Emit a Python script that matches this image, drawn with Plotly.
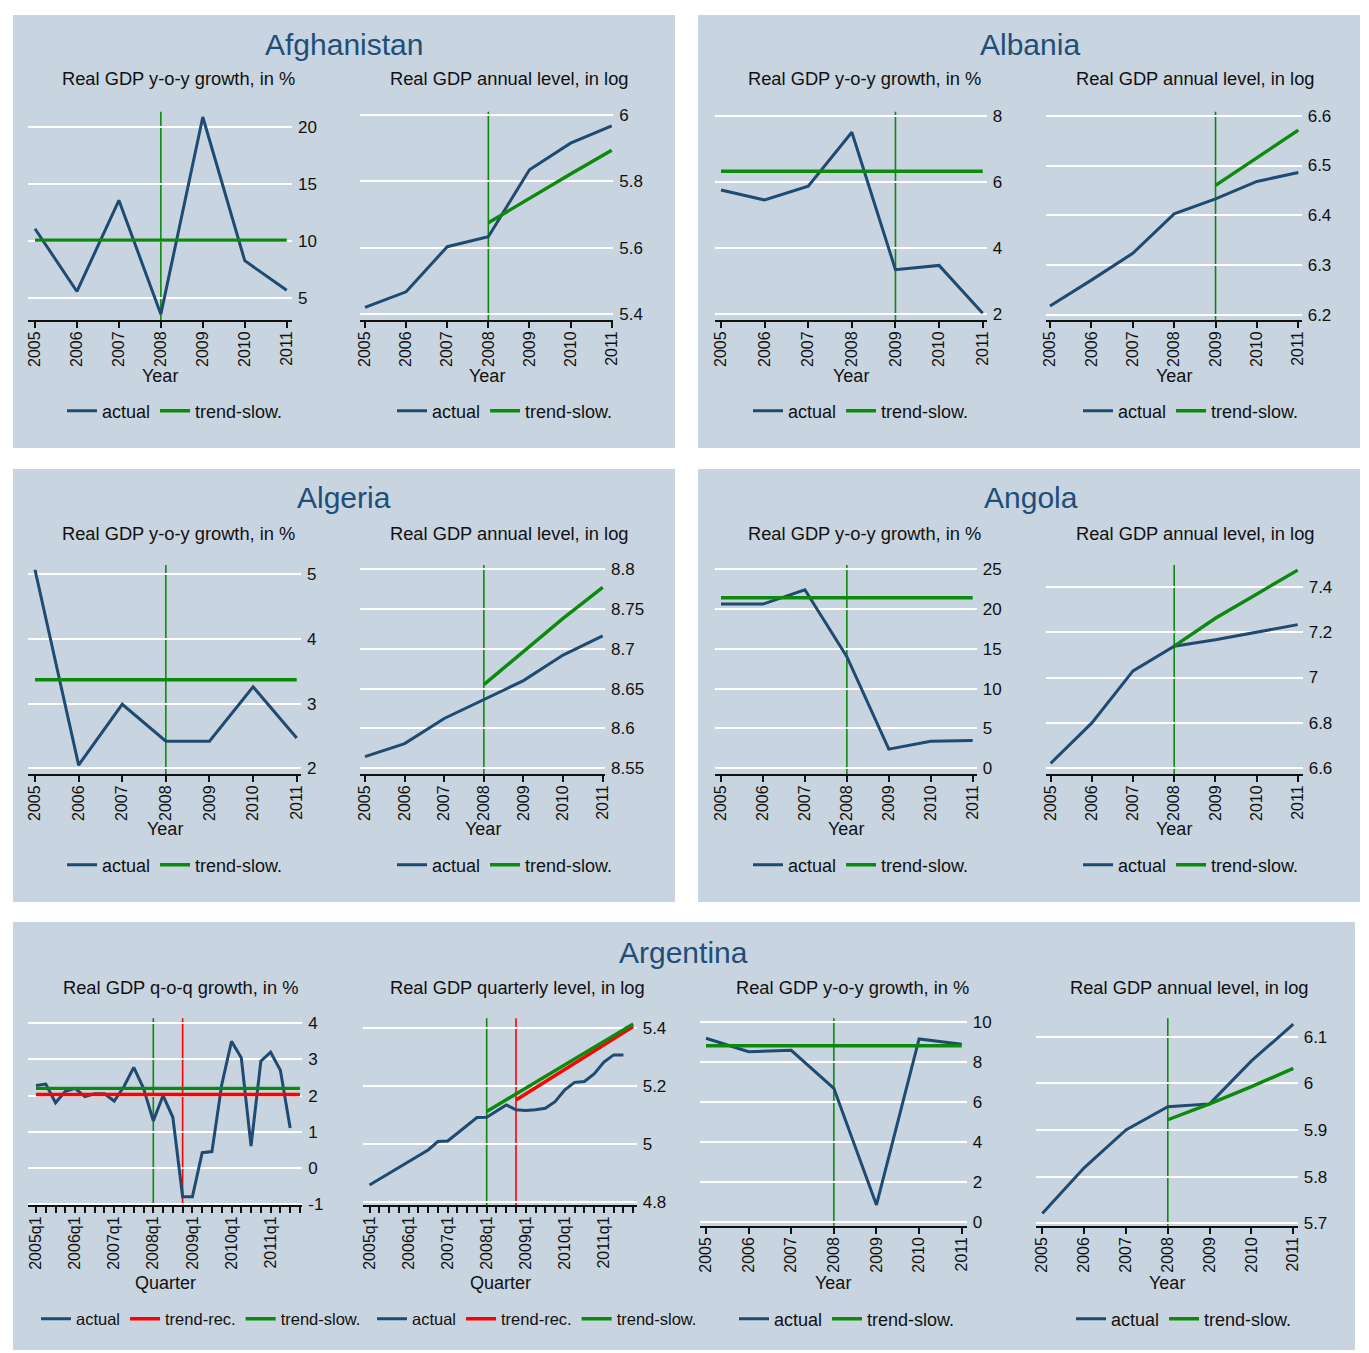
import plotly.graph_objects as go

W, H = 1369, 1353

FONT = "Liberation Sans, Arial, sans-serif"
NAVY = "#1f4a72"
GREEN = "#0c8a0c"
RED = "#ff0000"
PANEL = "#c8d4df"
TITLE_BLUE = "#1f4e79"
INK = "#111111"

# ---------------------------------------------------------------- data
years = [2005, 2006, 2007, 2008, 2009, 2010, 2011]
year_labels = ["2005", "2006", "2007", "2008", "2009", "2010", "2011"]

quarter_idx = list(range(28))                     # 2005q1 .. 2011q4
quarter_tick_idx = [0, 4, 8, 12, 16, 20, 24]
quarter_labels = ["2005q1", "2006q1", "2007q1", "2008q1", "2009q1", "2010q1", "2011q1"]

# Afghanistan
afg_growth = [11.1, 5.6, 13.6, 3.6, 20.9, 8.3, 5.7]
afg_growth_slow = [10.1, 10.1, 10.1, 10.1, 10.1, 10.1, 10.1]
afg_level = [5.420, 5.467, 5.603, 5.633, 5.835, 5.915, 5.967]
afg_slow_years = [2008, 2009, 2010, 2011]
afg_level_slow = [5.675, 5.750, 5.822, 5.894]
afg_break = 2008

# Albania
alb_growth = [5.75, 5.45, 5.87, 7.50, 3.34, 3.47, 2.02]
alb_growth_slow = [6.32, 6.32, 6.32, 6.32, 6.32, 6.32, 6.32]
alb_level = [6.218, 6.270, 6.324, 6.403, 6.433, 6.468, 6.486]
alb_slow_years = [2009, 2010, 2011]
alb_level_slow = [6.460, 6.515, 6.571]
alb_break = 2009

# Algeria
dza_growth = [5.07, 2.05, 2.99, 2.42, 2.42, 3.26, 2.47]
dza_growth_slow = [3.37, 3.37, 3.37, 3.37, 3.37, 3.37, 3.37]
dza_level = [8.5646, 8.581, 8.6125, 8.6366, 8.660, 8.692, 8.716]
dza_slow_years = [2008, 2009, 2010, 2011]
dza_level_slow = [8.655, 8.697, 8.738, 8.777]
dza_break = 2008

# Angola
ago_growth = [20.6, 20.6, 22.4, 14.0, 2.4, 3.4, 3.5]
ago_growth_slow = [21.4, 21.4, 21.4, 21.4, 21.4, 21.4, 21.4]
ago_level = [6.622, 6.800, 7.029, 7.138, 7.166, 7.200, 7.233]
ago_slow_years = [2008, 2009, 2010, 2011]
ago_level_slow = [7.138, 7.261, 7.367, 7.473]
ago_break = 2008

# Argentina, quarterly
arg_qoq = [2.28, 2.32, 1.80, 2.12, 2.20, 1.97, 2.05, 2.05, 1.85, 2.25,
           2.78, 2.20, 1.30, 2.00, 1.40, -0.80, -0.80, 0.42, 0.45, 2.30,
           3.50, 3.05, 0.60, 2.95, 3.20, 2.70, 1.10]
arg_qoq_rec = [2.03] * 28
arg_qoq_slow = [2.20] * 28
arg_qlevel = [4.858, 4.878, 4.898, 4.918, 4.939, 4.960, 4.979, 5.008, 5.010, 5.037,
              5.063, 5.091, 5.092, 5.114, 5.135, 5.118, 5.116, 5.118, 5.123, 5.146,
              5.187, 5.213, 5.216, 5.242, 5.283, 5.308, 5.308]
arg_qslow_idx = [12, 27]
arg_qlevel_slow = [5.112, 5.415]
arg_qrec_idx = [15, 27]
arg_qlevel_rec = [5.152, 5.406]
arg_q_slow_break = 12   # 2008q1
arg_q_rec_break = 15    # 2008q4

# Argentina, annual
arg_growth = [9.20, 8.53, 8.60, 6.70, 0.87, 9.17, 8.90]
arg_growth_slow = [8.83, 8.83, 8.83, 8.83, 8.83, 8.83, 8.83]
arg_level = [5.721, 5.819, 5.900, 5.950, 5.956, 6.048, 6.127]
arg_slow_years = [2008, 2009, 2010, 2011]
arg_level_slow = [5.922, 5.956, 5.993, 6.032]
arg_break = 2008

# ------------------------------------------------------------ layout
SUB_GROWTH = "Real GDP y-o-y growth, in %"
SUB_LEVEL = "Real GDP annual level, in log"

rows = [
    dict(title_y=45, sub_y=79, xtitle_y=376, legend_y=411),
    dict(title_y=498, sub_y=533, xtitle_y=829, legend_y=865),
    dict(title_y=952, sub_y=987, xtitle_y=1283, legend_y=1319),
]

panels = [
    dict(x0=13, x1=675, y0=15, y1=448, title="Afghanistan", tx=344, row=0),
    dict(x0=698, x1=1360, y0=15, y1=448, title="Albania", tx=1030, row=0),
    dict(x0=13, x1=675, y0=469, y1=902, title="Algeria", tx=344, row=1),
    dict(x0=698, x1=1360, y0=469, y1=902, title="Angola", tx=1031, row=1),
    dict(x0=13, x1=1355, y0=922, y1=1350, title="Argentina", tx=683, row=2),
]

# each chart: plot-area box in px, two x anchors and two y anchors (px, value),
# lx = left edge of its legend
charts = [
    dict(row=0, dom_x=(28, 292), xa=((35, 2005), (286.7, 2011)),
         dom_y=(111.7, 320), ya=((127.3, 20), (298.3, 5)),
         yt=[5, 10, 15, 20], ytt=["5", "10", "15", "20"],
         series=[("actual", years, afg_growth, NAVY), ("trend-slow.", years, afg_growth_slow, GREEN)],
         vlines=[(afg_break, GREEN)], sub=SUB_GROWTH, cx=178.5, xtitle="Year", lx=62, q=False),
    dict(row=0, dom_x=(360, 613.3), xa=((365, 2005), (611.7, 2011)),
         dom_y=(111.7, 320), ya=((115, 6), (314, 5.4)),
         yt=[5.4, 5.6, 5.8, 6], ytt=["5.4", "5.6", "5.8", "6"],
         series=[("actual", years, afg_level, NAVY), ("trend-slow.", afg_slow_years, afg_level_slow, GREEN)],
         vlines=[(afg_break, GREEN)], sub=SUB_LEVEL, cx=509, xtitle="Year", lx=392, q=False),
    dict(row=0, dom_x=(715, 986.7), xa=((721, 2005), (982.7, 2011)),
         dom_y=(111.7, 320), ya=((115.7, 8), (314, 2)),
         yt=[2, 4, 6, 8], ytt=["2", "4", "6", "8"],
         series=[("actual", years, alb_growth, NAVY), ("trend-slow.", years, alb_growth_slow, GREEN)],
         vlines=[(alb_break, GREEN)], sub=SUB_GROWTH, cx=864.5, xtitle="Year", lx=748, q=False),
    dict(row=0, dom_x=(1046, 1301.7), xa=((1050, 2005), (1298.3, 2011)),
         dom_y=(111.7, 320), ya=((115.7, 6.6), (315, 6.2)),
         yt=[6.2, 6.3, 6.4, 6.5, 6.6], ytt=["6.2", "6.3", "6.4", "6.5", "6.6"],
         series=[("actual", years, alb_level, NAVY), ("trend-slow.", alb_slow_years, alb_level_slow, GREEN)],
         vlines=[(alb_break, GREEN)], sub=SUB_LEVEL, cx=1195, xtitle="Year", lx=1078, q=False),
    dict(row=1, dom_x=(28.3, 301), xa=((35, 2005), (296.7, 2011)),
         dom_y=(565, 774), ya=((574.3, 5), (768.3, 2)),
         yt=[2, 3, 4, 5], ytt=["2", "3", "4", "5"],
         series=[("actual", years, dza_growth, NAVY), ("trend-slow.", years, dza_growth_slow, GREEN)],
         vlines=[(dza_break, GREEN)], sub=SUB_GROWTH, cx=178.5, xtitle="Year", lx=62, q=False),
    dict(row=1, dom_x=(360, 605), xa=((365, 2005), (602.7, 2011)),
         dom_y=(565, 774), ya=((569, 8.8), (768.3, 8.55)),
         yt=[8.55, 8.6, 8.65, 8.7, 8.75, 8.8], ytt=["8.55", "8.6", "8.65", "8.7", "8.75", "8.8"],
         series=[("actual", years, dza_level, NAVY), ("trend-slow.", dza_slow_years, dza_level_slow, GREEN)],
         vlines=[(dza_break, GREEN)], sub=SUB_LEVEL, cx=509, xtitle="Year", lx=392, q=False),
    dict(row=1, dom_x=(715, 976.7), xa=((721, 2005), (972.7, 2011)),
         dom_y=(565, 774), ya=((569, 25), (768.3, 0)),
         yt=[0, 5, 10, 15, 20, 25], ytt=["0", "5", "10", "15", "20", "25"],
         series=[("actual", years, ago_growth, NAVY), ("trend-slow.", years, ago_growth_slow, GREEN)],
         vlines=[(ago_break, GREEN)], sub=SUB_GROWTH, cx=864.5, xtitle="Year", lx=748, q=False),
    dict(row=1, dom_x=(1046, 1302.7), xa=((1050.7, 2005), (1297.7, 2011)),
         dom_y=(565, 774), ya=((586.7, 7.4), (768.3, 6.6)),
         yt=[6.6, 6.8, 7, 7.2, 7.4], ytt=["6.6", "6.8", "7", "7.2", "7.4"],
         series=[("actual", years, ago_level, NAVY), ("trend-slow.", ago_slow_years, ago_level_slow, GREEN)],
         vlines=[(ago_break, GREEN)], sub=SUB_LEVEL, cx=1195, xtitle="Year", lx=1078, q=False),
    dict(row=2, dom_x=(28.3, 302.3), xa=((36, 0), (153.3, 12)),
         dom_y=(1018.3, 1205), ya=((1023.3, 4), (1204, -1)),
         yt=[-1, 0, 1, 2, 3, 4], ytt=["-1", "0", "1", "2", "3", "4"],
         series=[("actual", quarter_idx[:len(arg_qoq)], arg_qoq, NAVY),
                 ("trend-rec.", quarter_idx, arg_qoq_rec, RED),
                 ("trend-slow.", quarter_idx, arg_qoq_slow, GREEN)],
         vlines=[(arg_q_slow_break, GREEN), (arg_q_rec_break, RED)],
         sub="Real GDP q-o-q growth, in %", cx=180.5, xtitle="Quarter", lx=36, q=True),
    dict(row=2, dom_x=(363.3, 636.7), xa=((369.5, 0), (486.7, 12)),
         dom_y=(1018.3, 1205), ya=((1028.3, 5.4), (1201.7, 4.8)),
         yt=[4.8, 5, 5.2, 5.4], ytt=["4.8", "5", "5.2", "5.4"],
         series=[("actual", quarter_idx[:len(arg_qlevel)], arg_qlevel, NAVY),
                 ("trend-rec.", arg_qrec_idx, arg_qlevel_rec, RED),
                 ("trend-slow.", arg_qslow_idx, arg_qlevel_slow, GREEN)],
         vlines=[(arg_q_slow_break, GREEN), (arg_q_rec_break, RED)],
         sub="Real GDP quarterly level, in log", cx=517, xtitle="Quarter", lx=372, q=True),
    dict(row=2, dom_x=(700, 966.7), xa=((706, 2005), (961.7, 2011)),
         dom_y=(1018.3, 1225.7), ya=((1022.3, 10), (1222.3, 0)),
         yt=[0, 2, 4, 6, 8, 10], ytt=["0", "2", "4", "6", "8", "10"],
         series=[("actual", years, arg_growth, NAVY), ("trend-slow.", years, arg_growth_slow, GREEN)],
         vlines=[(arg_break, GREEN)], sub=SUB_GROWTH, cx=852.5, xtitle="Year", lx=734, q=False),
    dict(row=2, dom_x=(1035.7, 1297.7), xa=((1042.3, 2005), (1293.3, 2011)),
         dom_y=(1018.3, 1225.7), ya=((1036.7, 6.1), (1223.3, 5.7)),
         yt=[5.7, 5.8, 5.9, 6, 6.1], ytt=["5.7", "5.8", "5.9", "6", "6.1"],
         series=[("actual", years, arg_level, NAVY), ("trend-slow.", arg_slow_years, arg_level_slow, GREEN)],
         vlines=[(arg_break, GREEN)], sub=SUB_LEVEL, cx=1189, xtitle="Year", lx=1071, q=False),
]


def fx(p):
    return p / W


def fy(p):
    return 1 - p / H


def span(lo, hi, a, b):
    """Values at pixel positions lo and hi given two (pixel, value) anchors."""
    k = (b[1] - a[1]) / (b[0] - a[0])
    return a[1] + (lo - a[0]) * k, a[1] + (hi - a[0]) * k


fig = go.Figure()
layout = dict(
    width=W, height=H,
    margin=dict(l=0, r=0, t=0, b=0, autoexpand=False),
    paper_bgcolor="white",
    plot_bgcolor="rgba(0,0,0,0)",
    font=dict(family=FONT, color=INK),
    showlegend=True,
)
shapes = []
annotations = []

for p in panels:
    shapes.append(dict(type="rect", xref="paper", yref="paper",
                       x0=fx(p["x0"]), x1=fx(p["x1"]), y0=fy(p["y1"]), y1=fy(p["y0"]),
                       fillcolor=PANEL, line=dict(width=0), layer="below"))
    annotations.append(dict(text=p["title"], xref="paper", yref="paper",
                            x=fx(p["tx"]), y=fy(rows[p["row"]]["title_y"]),
                            xanchor="center", yanchor="middle", showarrow=False,
                            font=dict(size=30, color=TITLE_BLUE, family=FONT)))

for i, c in enumerate(charts, start=1):
    sfx = "" if i == 1 else str(i)
    xref, yref = "x" + sfx, "y" + sfx
    leg = "legend" + sfx
    r = rows[c["row"]]

    xr = span(c["dom_x"][0], c["dom_x"][1], c["xa"][0], c["xa"][1])
    yr = span(c["dom_y"][1], c["dom_y"][0], c["ya"][0], c["ya"][1])

    for name, xs, ys, col in c["series"]:
        fig.add_trace(go.Scatter(x=xs, y=ys, mode="lines", name=name,
                                 line=dict(color=col, width=3 if col == NAVY else 3.4),
                                 xaxis=xref, yaxis=yref, legend=leg,
                                 hoverinfo="skip"))

    xaxis = dict(domain=[fx(c["dom_x"][0]), fx(c["dom_x"][1])], range=list(xr),
                 anchor=yref, showgrid=False, zeroline=False, automargin=False,
                 showline=True, linecolor=INK, linewidth=2,
                 ticks="outside", ticklen=6, tickwidth=2, tickcolor=INK,
                 tickangle=-90, tickfont=dict(size=16, family=FONT, color=INK),
                 ticklabelstandoff=-3, tickmode="array")
    if c["q"]:
        xaxis.update(tickvals=quarter_tick_idx, ticktext=quarter_labels,
                     minor=dict(tickmode="array", tickvals=quarter_idx, ticks="outside",
                                ticklen=6, tickwidth=2, tickcolor=INK, showgrid=False))
    else:
        xaxis.update(tickvals=years, ticktext=year_labels)
    layout["xaxis" + sfx] = xaxis

    layout["yaxis" + sfx] = dict(domain=[fy(c["dom_y"][1]), fy(c["dom_y"][0])], range=list(yr),
                                 anchor=xref, side="right", showline=False, zeroline=False,
                                 automargin=False,
                                 showgrid=True, gridcolor="white", gridwidth=2,
                                 ticks="", tickmode="array", tickvals=c["yt"], ticktext=c["ytt"],
                                 ticklabelstandoff=5,
                                 tickfont=dict(size=17, family=FONT, color=INK))

    for xv, col in c["vlines"]:
        shapes.append(dict(type="line", xref=xref, yref=yref + " domain",
                           x0=xv, x1=xv, y0=0, y1=1, layer="below",
                           line=dict(color=col, width=1.6)))

    annotations.append(dict(text=c["sub"], xref="paper", yref="paper",
                            x=fx(c["cx"]), y=fy(r["sub_y"]), xanchor="center", yanchor="middle",
                            showarrow=False, font=dict(size=18.3, color=INK, family=FONT)))
    annotations.append(dict(text=c["xtitle"], xref="paper", yref="paper",
                            x=fx((c["dom_x"][0] + c["dom_x"][1]) / 2), y=fy(r["xtitle_y"]),
                            xanchor="center", yanchor="middle", showarrow=False,
                            font=dict(size=18, color=INK, family=FONT)))

    layout[leg] = dict(x=fx(c["lx"]), y=fy(r["legend_y"]), xanchor="left", yanchor="middle",
                       orientation="h", bgcolor="rgba(0,0,0,0)", borderwidth=0,
                       font=dict(size=16.5 if c["q"] else 18, color=INK, family=FONT),
                       itemclick=False, itemdoubleclick=False)

layout["shapes"] = shapes
layout["annotations"] = annotations
fig.update_layout(**layout)

fig.write_html("out.html", config={"displayModeBar": False})
